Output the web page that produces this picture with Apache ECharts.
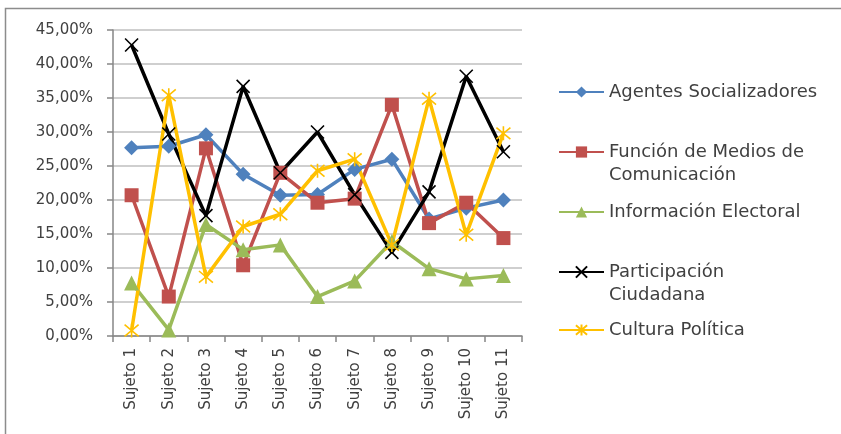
<!DOCTYPE html>
<html>
<head>
<meta charset="utf-8">
<script src="https://cdn.jsdelivr.net/npm/echarts@6/dist/echarts.min.js"></script>
<style>
  html, body { margin: 0; padding: 0; background: #fff; }
  #chart { width: 841px; height: 434px; }
</style>
</head>
<body>
<div id="chart"></div>
<script>
const categories = ['Sujeto 1', 'Sujeto 2', 'Sujeto 3', 'Sujeto 4', 'Sujeto 5', 'Sujeto 6',
  'Sujeto 7', 'Sujeto 8', 'Sujeto 9', 'Sujeto 10', 'Sujeto 11']

// valores en %
const agentes = [27.7, 27.9, 29.6, 23.8, 20.7, 20.8, 24.5, 26.0, 17.2, 18.8, 20.0]
const funcion = [20.7, 5.8, 27.6, 10.4, 24.0, 19.6, 20.2, 34.0, 16.6, 19.6, 14.4]
const informacion = [7.8, 0.9, 16.4, 12.7, 13.4, 5.8, 8.1, 13.9, 9.9, 8.4, 8.9]
const participacion = [42.8, 29.7, 17.7, 36.7, 24.0, 30.0, 20.8, 12.3, 21.2, 38.2, 27.1]
const cultura = [0.8, 35.4, 8.7, 16.1, 17.9, 24.3, 26.0, 13.4, 34.9, 14.9, 29.8]

const yMax = 45
const yStep = 5

const font = 'DejaVu Sans'
const textColor = '#404040'

const crossPath = 'path://M0,0L10,10M10,0L0,10'
const starPath = 'path://M0,0L10,10M10,0L0,10M5,-1L5,11'

function lineSeries(name, data, color, symbol, size, stroke) {
  return {
    name,
    type: 'line',
    data,
    symbol,
    symbolSize: size,
    showAllSymbol: true,
    lineStyle: { color, width: 3.5 },
    itemStyle: stroke
      ? { color: 'rgba(0,0,0,0)', borderColor: color, borderWidth: 1.6 }
      : { color, borderColor: color, borderWidth: 0 },
    emphasis: { disabled: true },
    animation: false,
  }
}

const series = [
  lineSeries('Agentes Socializadores', agentes, '#4F81BD', 'diamond', 15, false),
  lineSeries('Función de Medios de Comunicación', funcion, '#C0504D', 'rect', 14, false),
  lineSeries('Información Electoral', informacion, '#9BBB59', 'triangle', 15, false),
  lineSeries('Participación Ciudadana', participacion, '#000000', crossPath, 13, true),
  lineSeries('Cultura Política', cultura, '#FFC000', starPath, 14, true),
]

// el salto inicial deja la primera línea alineada con el icono
const legendLabels = {
  'Agentes Socializadores': 'Agentes Socializadores',
  'Función de Medios de Comunicación': ' \nFunción de Medios de\nComunicación',
  'Información Electoral': 'Información Electoral',
  'Participación Ciudadana': ' \nParticipación\nCiudadana',
  'Cultura Política': 'Cultura Política',
}
const legendCenters = [92, 152, 212, 272, 330]

const legend = series.map((s, i) => {
  const lines = legendLabels[s.name].split('\n').length
  const lh = 23
  return {
    data: [s.name],
    orient: 'vertical',
    left: 558,
    top: legendCenters[i] - (lh * lines) / 2,
    itemWidth: 45,
    itemHeight: 14,
    itemGap: 0,
    padding: 0,
    selectedMode: false,
    formatter: (n) => legendLabels[n],
    textStyle: {
      fontFamily: font,
      fontSize: 18,
      color: textColor,
      lineHeight: lh,
    },
  }
})

const chart = echarts.init(document.getElementById('chart'))
chart.setOption({
  animation: false,
  graphic: [{
    type: 'rect',
    shape: { x: 5.5, y: 8.5, width: 900, height: 500 },
    style: { fill: 'none', stroke: '#8C8C8C', lineWidth: 1.5 },
    silent: true,
  }],
  grid: { left: 113, right: 319, top: 30, bottom: 98 },
  legend,
  xAxis: {
    type: 'category',
    data: categories,
    boundaryGap: true,
    axisLine: { lineStyle: { color: '#868686', width: 1.5 } },
    axisTick: { show: true, length: 6, lineStyle: { color: '#868686', width: 1.5 } },
    axisLabel: {
      rotate: 90,
      margin: 12,
      fontFamily: font,
      fontSize: 15,
      color: textColor,
      interval: 0,
    },
  },
  yAxis: {
    type: 'value',
    min: 0,
    max: yMax,
    interval: yStep,
    axisLine: { show: true, lineStyle: { color: '#868686', width: 1.5 } },
    axisTick: { show: true, length: 6, lineStyle: { color: '#868686', width: 1.5 } },
    splitLine: { lineStyle: { color: '#BFBFBF', width: 1.5 } },
    axisLabel: {
      margin: 20,
      fontFamily: font,
      fontSize: 15,
      color: textColor,
      formatter: (v) => v.toFixed(2).replace('.', ',') + '%',
    },
  },
  series,
})
</script>
</body>
</html>
